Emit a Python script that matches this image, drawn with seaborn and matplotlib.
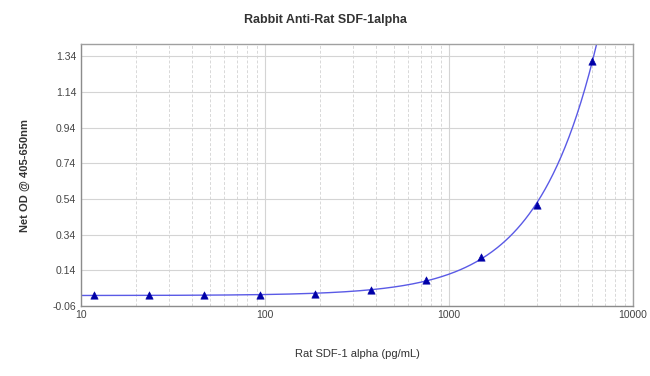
import numpy as np
import pandas as pd
import seaborn as sns
import matplotlib.pyplot as plt
from matplotlib.ticker import FixedLocator, LogLocator, NullFormatter

# standard curve (two-fold dilutions)
conc = [11.72, 23.44, 46.88, 93.75, 187.5, 375, 750, 1500, 3000, 6000]
od = [0.004, 0.0, 0.0, 0.001, 0.006, 0.03, 0.085, 0.217, 0.508, 1.313]
y_ticks = [-0.06, 0.14, 0.34, 0.54, 0.74, 0.94, 1.14, 1.34]
x_ticks = [10, 100, 1000, 10000]

pts = pd.DataFrame({"conc": conc, "od": od})

# fitted curve: od = d + b * conc^p, p by grid search, d and b by least squares
x_arr = np.asarray(conc)
y_arr = np.asarray(od)
best = None
for p in np.linspace(0.8, 2.0, 241):
    A = np.column_stack([np.ones_like(x_arr), x_arr ** p])
    sol, *_ = np.linalg.lstsq(A, y_arr, rcond=None)
    err = np.sum((A @ sol - y_arr) ** 2)
    if best is None or err < best[0]:
        best = (err, p, sol)
_, p_fit, (d_fit, b_fit) = best
xs = np.geomspace(10, 7500, 400)
fit = pd.DataFrame({"conc": xs, "od": d_fit + b_fit * xs ** p_fit})

sns.set_style("white")
plt.rcParams["font.family"] = ["Liberation Sans", "DejaVu Sans"]

fig = plt.figure(figsize=(6.5, 3.76), dpi=100)
ax = fig.add_axes([0.1246, 0.186, 0.8494, 0.697])

sns.lineplot(data=fit, x="conc", y="od", ax=ax, color="#5a5ae6", linewidth=1.0)
sns.scatterplot(data=pts, x="conc", y="od", ax=ax, marker="^", s=28,
                color="#0000a8", edgecolor="#0000a8", zorder=5)

ax.set_xscale("log")
ax.set_xlim(10, 10000)
ax.set_ylim(-0.06, 1.41)
ax.xaxis.set_major_locator(FixedLocator(x_ticks))
ax.set_xticklabels([str(t) for t in x_ticks])
ax.xaxis.set_minor_locator(LogLocator(base=10, subs=np.arange(2, 10)))
ax.xaxis.set_minor_formatter(NullFormatter())
ax.set_yticks(y_ticks)
ax.set_yticklabels([f"{t:.2f}" for t in y_ticks])

ax.grid(True, which="major", color="#d4d4d4", linewidth=0.8, linestyle="-")
ax.grid(True, which="minor", axis="x", color="#d8d8d8", linewidth=0.7, linestyle=(0, (3, 2)))
ax.set_axisbelow(True)

ax.tick_params(axis="both", which="both", length=0, labelsize=7.5, labelcolor="#444444")
ax.tick_params(axis="x", pad=3)
for side, sp in ax.spines.items():
    sp.set_color("#8c8c8c" if side in ("left", "bottom") else "#a0a0a0")
    sp.set_linewidth(1.0)

ax.set_xlabel("Rat SDF-1 alpha (pg/mL)", fontsize=8, color="#333333", labelpad=21)
ax.set_ylabel("Net OD @ 405-650nm", fontsize=8, color="#333333", fontweight="bold", labelpad=16)
fig.suptitle("Rabbit Anti-Rat SDF-1alpha", fontsize=9, fontweight="bold", color="#333333", y=0.962)

fig.savefig("out.png", dpi=100)
